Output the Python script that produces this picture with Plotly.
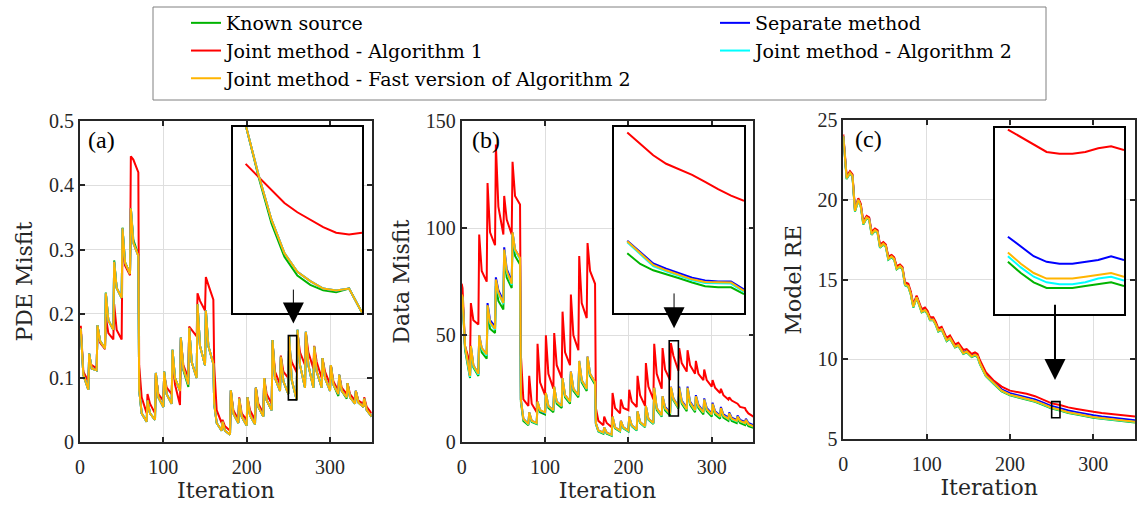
import plotly.graph_objects as go

# ---------------- data ----------------
names = ["Known source", "Separate method", "Joint method - Algorithm 1",
         "Joint method - Algorithm 2", "Joint method - Fast version of Algorithm 2"]
colors = ["#00b400", "#0000ff", "#ff0000", "#00ffff", "#ffb400"]

# iteration positions of the read vertices (peak, +3, block end) for panels (a),(b)
iters_ab = [0] + [10 * k + d for k in range(35) for d in (1, 4, 10)]
# iteration positions for panel (c)
iters_c = [0] + [10 * k + d for k in range(17) for d in (4, 8, 11)] + list(range(180, 351, 10))
# iterations shown in the zoomed insets
iters_inset = [251, 252, 253, 254, 255, 256, 257, 258, 259, 260]

# (a) PDE misfit
known_a = [0.177,
    0.175, 0.105, 0.082, 0.138, 0.115, 0.112, 0.182, 0.158, 0.146, 0.233, 0.190, 0.175, 0.283, 0.240, 0.224,
    0.334, 0.280, 0.262, 0.364, 0.315, 0.292, 0.082, 0.045, 0.032, 0.065, 0.045, 0.035, 0.108, 0.070, 0.055,
    0.110, 0.075, 0.060, 0.144, 0.100, 0.080, 0.163, 0.112, 0.086, 0.178, 0.125, 0.100, 0.215, 0.150, 0.120,
    0.205, 0.150, 0.122, 0.060, 0.030, 0.018, 0.032, 0.018, 0.012, 0.081, 0.045, 0.030, 0.068, 0.040, 0.026,
    0.070, 0.042, 0.028, 0.085, 0.055, 0.040, 0.100, 0.065, 0.050, 0.159, 0.100, 0.080, 0.133, 0.095, 0.075,
    0.167, 0.096, 0.066, 0.175, 0.120, 0.085, 0.172, 0.120, 0.085, 0.149, 0.110, 0.085, 0.131, 0.100, 0.080,
    0.120, 0.090, 0.072, 0.105, 0.080, 0.068, 0.092, 0.070, 0.060, 0.080, 0.062, 0.055, 0.068, 0.050, 0.040]
separate_a = [0.177,
    0.175, 0.105, 0.082, 0.138, 0.115, 0.112, 0.182, 0.158, 0.146, 0.232, 0.190, 0.175, 0.281, 0.240, 0.225,
    0.333, 0.280, 0.262, 0.364, 0.310, 0.290, 0.082, 0.045, 0.032, 0.065, 0.045, 0.035, 0.108, 0.070, 0.055,
    0.110, 0.075, 0.060, 0.144, 0.100, 0.080, 0.163, 0.115, 0.090, 0.178, 0.125, 0.100, 0.215, 0.150, 0.120,
    0.205, 0.150, 0.122, 0.060, 0.030, 0.018, 0.032, 0.018, 0.012, 0.081, 0.045, 0.030, 0.068, 0.040, 0.026,
    0.070, 0.042, 0.028, 0.085, 0.055, 0.040, 0.100, 0.065, 0.050, 0.159, 0.100, 0.080, 0.133, 0.095, 0.075,
    0.167, 0.098, 0.066, 0.175, 0.120, 0.085, 0.172, 0.120, 0.085, 0.149, 0.110, 0.085, 0.131, 0.100, 0.080,
    0.120, 0.090, 0.075, 0.105, 0.080, 0.070, 0.092, 0.070, 0.060, 0.080, 0.062, 0.055, 0.068, 0.050, 0.040]
joint1_a = [0.180,
    0.180, 0.110, 0.095, 0.125, 0.120, 0.115, 0.180, 0.155, 0.145, 0.195, 0.170, 0.160, 0.215, 0.175, 0.160,
    0.320, 0.275, 0.260, 0.445, 0.440, 0.420, 0.120, 0.070, 0.045, 0.075, 0.060, 0.045, 0.105, 0.075, 0.065,
    0.105, 0.085, 0.075, 0.130, 0.090, 0.058, 0.160, 0.120, 0.100, 0.180, 0.175, 0.165, 0.232, 0.220, 0.205,
    0.257, 0.245, 0.222, 0.120, 0.050, 0.030, 0.035, 0.025, 0.018, 0.080, 0.050, 0.035, 0.070, 0.045, 0.035,
    0.070, 0.050, 0.035, 0.085, 0.060, 0.045, 0.100, 0.075, 0.060, 0.155, 0.110, 0.090, 0.135, 0.110, 0.100,
    0.146, 0.125, 0.109, 0.170, 0.140, 0.120, 0.170, 0.140, 0.115, 0.150, 0.125, 0.100, 0.130, 0.110, 0.090,
    0.120, 0.095, 0.080, 0.105, 0.085, 0.075, 0.092, 0.075, 0.065, 0.080, 0.065, 0.060, 0.070, 0.055, 0.045]
joint2_a = [0.177,
    0.175, 0.105, 0.082, 0.138, 0.115, 0.112, 0.182, 0.158, 0.146, 0.232, 0.190, 0.175, 0.281, 0.240, 0.225,
    0.333, 0.280, 0.262, 0.364, 0.310, 0.290, 0.082, 0.045, 0.032, 0.065, 0.045, 0.035, 0.108, 0.070, 0.055,
    0.110, 0.075, 0.060, 0.144, 0.100, 0.080, 0.163, 0.115, 0.090, 0.178, 0.125, 0.100, 0.215, 0.150, 0.120,
    0.205, 0.150, 0.122, 0.060, 0.030, 0.018, 0.032, 0.018, 0.012, 0.081, 0.045, 0.030, 0.068, 0.040, 0.026,
    0.070, 0.042, 0.028, 0.085, 0.055, 0.040, 0.100, 0.065, 0.050, 0.159, 0.100, 0.080, 0.133, 0.095, 0.075,
    0.167, 0.098, 0.066, 0.175, 0.120, 0.085, 0.172, 0.120, 0.085, 0.149, 0.110, 0.085, 0.131, 0.100, 0.080,
    0.120, 0.090, 0.075, 0.105, 0.080, 0.070, 0.092, 0.070, 0.060, 0.080, 0.062, 0.055, 0.068, 0.050, 0.040]
fast_a = [0.177,
    0.175, 0.105, 0.082, 0.138, 0.115, 0.112, 0.182, 0.158, 0.146, 0.232, 0.190, 0.175, 0.281, 0.240, 0.225,
    0.333, 0.280, 0.262, 0.364, 0.310, 0.290, 0.082, 0.045, 0.032, 0.065, 0.045, 0.035, 0.108, 0.070, 0.055,
    0.110, 0.075, 0.060, 0.144, 0.100, 0.080, 0.163, 0.115, 0.090, 0.178, 0.125, 0.100, 0.215, 0.150, 0.120,
    0.205, 0.150, 0.122, 0.060, 0.030, 0.018, 0.032, 0.018, 0.012, 0.081, 0.045, 0.030, 0.068, 0.040, 0.026,
    0.070, 0.042, 0.028, 0.085, 0.055, 0.040, 0.100, 0.065, 0.050, 0.159, 0.100, 0.080, 0.133, 0.095, 0.075,
    0.167, 0.098, 0.066, 0.175, 0.120, 0.085, 0.172, 0.120, 0.085, 0.149, 0.110, 0.085, 0.131, 0.100, 0.080,
    0.120, 0.090, 0.075, 0.105, 0.080, 0.070, 0.092, 0.070, 0.060, 0.080, 0.062, 0.055, 0.068, 0.050, 0.040]

# (b) Data misfit
known_b = [68,
    67, 43, 30, 44, 35, 31, 49, 42, 39, 61, 53, 51, 73, 66, 62,
    87, 77, 72, 96, 87, 83, 19, 10, 8, 13, 9.5, 8.5, 18, 14, 13,
    22, 16, 14, 25, 18, 16, 29, 21, 18, 32, 24, 21, 37, 28, 24,
    39, 31, 27, 8.5, 5, 4, 6.5, 4, 3, 11, 6.5, 5, 9.5, 6.5, 5,
    11.5, 7.5, 5.5, 14, 9, 7, 16, 10.5, 8.5, 24.5, 15, 12, 20.5, 15, 12.5,
    23.5, 19.6, 15.8, 24.5, 18, 14.5, 24.5, 17.5, 14, 20.5, 16, 13, 19, 14.5, 12,
    17, 13, 11, 15, 11.5, 10, 12.5, 10, 9, 11, 9, 8, 9.5, 7.5, 6.8]
separate_b = [69,
    68, 45, 31, 45, 36, 32, 50, 44, 41, 65, 57, 54, 77, 71, 66,
    91, 81, 75, 98, 90, 86, 20, 11, 8.5, 14, 10, 9, 19, 15, 13.5,
    23, 17, 15, 26, 19, 17, 30, 22, 19, 33, 25, 22, 38, 29, 25,
    40, 32, 28, 9, 5.5, 4.5, 7, 4.5, 3.5, 12, 7, 5.5, 10, 7, 5.5,
    12, 8, 6, 14.5, 9.5, 7.5, 17, 11, 9, 25.5, 16, 12.5, 21.5, 16.5, 14,
    25.9, 20.6, 16.7, 26, 19.5, 16, 26, 19, 15.5, 22, 17.5, 14.5, 20.5, 16, 13.5,
    18.5, 14.5, 12.5, 16.5, 13, 11.5, 14, 11.5, 10.5, 12.5, 10.5, 9.5, 11, 9, 8]
joint1_b = [74,
    72, 45, 37, 65, 57, 55, 97, 80, 75, 121, 98, 92, 139, 110, 97,
    115, 104, 97, 131, 115, 111, 41, 20, 17, 31, 18, 14, 46, 28, 22,
    50, 32, 25, 51, 36, 30, 61, 42, 36, 69, 50, 43, 87, 65, 58,
    93, 80, 74, 16, 10, 8, 12, 9, 7, 23, 16, 13.5, 20, 16, 15,
    24.5, 19, 16.5, 31, 22, 17, 37, 26, 20, 46, 32, 25, 44, 34, 29,
    46.3, 40.4, 33.4, 44, 37, 33, 43, 36, 32, 38, 32, 29, 34, 29, 26,
    29, 25.5, 23, 25, 22, 20, 21, 19.5, 18, 18, 16.5, 16, 15, 13.5, 12]
joint2_b = [68.5,
    67.5, 44.5, 30.5, 44.5, 35.5, 31.5, 49.5, 43.5, 40.5, 63.5, 55.5, 52.5, 75.5, 69.5, 64.5,
    89.5, 79.5, 73.5, 97.5, 89.5, 85.5, 19.8, 10.8, 8.3, 13.8, 9.8, 8.8, 18.8, 14.8, 13.8,
    22.8, 16.8, 14.8, 25.8, 18.8, 16.8, 29.8, 21.8, 18.8, 32.8, 24.8, 21.8, 37.8, 28.8, 24.8,
    39.8, 31.8, 27.8, 8.8, 5.3, 4.3, 6.8, 4.3, 3.3, 11.8, 6.8, 5.3, 9.8, 6.8, 5.3,
    11.8, 7.8, 5.8, 14.3, 9.3, 7.3, 16.8, 10.8, 8.8, 25.3, 15.8, 12.3, 21.3, 15.8, 13.3,
    25.6, 20.1, 16.2, 25.3, 18.8, 15.3, 25.3, 18.3, 14.8, 21.3, 16.8, 13.8, 19.8, 15.3, 12.8,
    17.8, 13.8, 11.8, 15.8, 12.3, 10.8, 13.3, 10.8, 9.8, 11.8, 9.8, 8.8, 10.3, 8.3, 7.3]
fast_b = [69,
    68, 45, 31, 45, 36, 32, 50, 44, 41, 64, 56, 53, 76, 70, 65,
    90, 80, 74, 98, 90, 86, 20, 11, 8.5, 14, 10, 9, 19, 15, 14,
    23, 17, 15, 26, 19, 17, 30, 22, 19, 33, 25, 22, 38, 29, 25,
    40, 32, 28, 9, 5.5, 4.5, 7, 4.5, 3.5, 12, 7, 5.5, 10, 7, 5.5,
    12, 8, 6, 14.5, 9.5, 7.5, 17, 11, 9, 25.5, 16, 12.5, 21.5, 16, 13.5,
    25.8, 20.3, 16.4, 25.5, 19, 15.5, 25.5, 18.5, 15, 21.5, 17, 14, 20, 15.5, 13,
    18, 14, 12, 16, 12.5, 11, 13.5, 11, 10, 12, 10, 9, 10.5, 8.5, 7.5]

# (c) Model RE
known_c = [23.95,
    21.3, 21.65, 21.45, 19.25, 19.95, 19.55, 18.45, 18.85, 18.75, 17.8, 18.05, 17.95, 17.0, 17.2,
    17.05, 16.25, 16.4, 16.25, 15.65, 15.8, 15.65, 14.65, 14.55, 14.05, 13.25, 13.85, 13.35, 12.95, 13.05,
    12.85, 12.45, 12.45, 12.15, 11.75, 11.85, 11.55, 11.15, 11.3, 11.05, 10.75, 10.85, 10.55, 10.35, 10.45,
    10.3, 10.15, 10.25, 10.15, 9.7, 9.3,
    8.95, 8.5, 8.0, 7.75, 7.62, 7.5, 7.35, 7.15, 6.93, 6.8, 6.65, 6.55, 6.43, 6.35, 6.28, 6.22, 6.16, 6.11, 6.05]
separate_c = [24.0,
    21.4, 21.75, 21.55, 19.35, 20.05, 19.65, 18.55, 18.95, 18.85, 17.9, 18.15, 18.05, 17.1, 17.3,
    17.15, 16.35, 16.5, 16.35, 15.75, 15.9, 15.75, 14.75, 14.65, 14.15, 13.35, 13.95, 13.45, 13.05, 13.15,
    12.95, 12.55, 12.55, 12.25, 11.85, 11.95, 11.65, 11.25, 11.4, 11.15, 10.85, 10.95, 10.65, 10.45, 10.55,
    10.4, 10.25, 10.35, 10.25, 9.8, 9.4,
    9.1, 8.62, 8.13, 7.89, 7.76, 7.64, 7.5, 7.3, 7.08, 6.95, 6.8, 6.7, 6.58, 6.5, 6.43, 6.37, 6.31, 6.26, 6.2]
joint1_c = [24.1,
    21.5, 21.8, 21.6, 19.45, 20.1, 19.75, 18.65, 19.0, 18.9, 18.0, 18.2, 18.1, 17.2, 17.35,
    17.2, 16.45, 16.55, 16.4, 15.85, 15.95, 15.8, 14.85, 14.75, 14.25, 13.45, 14.0, 13.55, 13.15, 13.25,
    13.05, 12.65, 12.65, 12.35, 11.95, 12.05, 11.75, 11.35, 11.5, 11.25, 10.95, 11.05, 10.8, 10.6, 10.65,
    10.5, 10.35, 10.45, 10.35, 9.95, 9.5,
    9.2, 8.7, 8.3, 8.05, 7.95, 7.85, 7.7, 7.5, 7.25, 7.15, 7.0, 6.9, 6.8, 6.72, 6.65, 6.59, 6.53, 6.48, 6.43]
joint2_c = [23.98,
    21.33, 21.68, 21.48, 19.28, 19.98, 19.58, 18.48, 18.88, 18.78, 17.83, 18.08, 17.98, 17.03, 17.23,
    17.08, 16.28, 16.43, 16.28, 15.68, 15.83, 15.68, 14.68, 14.58, 14.08, 13.28, 13.88, 13.38, 12.98, 13.08,
    12.88, 12.48, 12.48, 12.18, 11.78, 11.88, 11.58, 11.18, 11.33, 11.08, 10.78, 10.88, 10.58, 10.38, 10.48,
    10.33, 10.18, 10.28, 10.18, 9.73, 9.33,
    8.98, 8.53, 8.03, 7.78, 7.65, 7.53, 7.38, 7.18, 6.96, 6.83, 6.68, 6.58, 6.46, 6.38, 6.31, 6.25, 6.19, 6.14, 6.08]
fast_c = [24.0,
    21.35, 21.7, 21.5, 19.3, 20.0, 19.6, 18.5, 18.9, 18.8, 17.85, 18.1, 18.0, 17.05, 17.25,
    17.1, 16.3, 16.45, 16.3, 15.7, 15.85, 15.7, 14.7, 14.6, 14.1, 13.3, 13.9, 13.4, 13.0, 13.1,
    12.9, 12.5, 12.5, 12.2, 11.8, 11.9, 11.6, 11.2, 11.35, 11.1, 10.8, 10.9, 10.6, 10.4, 10.5,
    10.35, 10.2, 10.3, 10.2, 9.75, 9.35,
    9.0, 8.55, 8.05, 7.8, 7.67, 7.55, 7.4, 7.2, 6.98, 6.85, 6.7, 6.6, 6.48, 6.4, 6.33, 6.27, 6.21, 6.16, 6.1]

# insets (zoom on iterations 250-260)
known_ia = [0.167, 0.139, 0.114, 0.096, 0.086, 0.081, 0.078, 0.077, 0.079, 0.066]
separate_ia = [0.167, 0.140, 0.116, 0.098, 0.088, 0.083, 0.079, 0.078, 0.079, 0.066]
joint1_ia = [0.146, 0.139, 0.132, 0.125, 0.120, 0.116, 0.112, 0.109, 0.108, 0.109]
joint2_ia = [0.167, 0.140, 0.116, 0.098, 0.088, 0.083, 0.079, 0.078, 0.079, 0.066]
fast_ia = [0.167, 0.140, 0.116, 0.098, 0.088, 0.083, 0.079, 0.078, 0.079, 0.066]

known_ib = [23.5, 21.5, 20.3, 19.6, 18.8, 18.0, 17.3, 17.1, 17.1, 15.8]
separate_ib = [25.9, 23.7, 21.6, 20.6, 19.7, 18.9, 18.4, 18.2, 18.2, 16.7]
joint1_ib = [46.3, 44.2, 42.0, 40.4, 39.4, 38.3, 37.0, 35.6, 34.4, 33.4]
joint2_ib = [25.6, 23.3, 21.1, 20.1, 19.2, 18.4, 17.9, 17.8, 17.8, 16.2]
fast_ib = [25.8, 23.5, 21.3, 20.3, 19.4, 18.6, 18.1, 18.0, 18.0, 16.4]

known_ic = [6.68, 6.62, 6.57, 6.54, 6.54, 6.54, 6.55, 6.56, 6.57, 6.55]
separate_ic = [6.815, 6.76, 6.71, 6.68, 6.67, 6.67, 6.68, 6.69, 6.71, 6.69]
joint1_ic = [7.39, 7.35, 7.31, 7.27, 7.26, 7.26, 7.27, 7.29, 7.30, 7.28]
joint2_ic = [6.71, 6.65, 6.60, 6.57, 6.56, 6.56, 6.57, 6.59, 6.60, 6.58]
fast_ic = [6.73, 6.67, 6.62, 6.59, 6.59, 6.59, 6.60, 6.61, 6.62, 6.60]

for lst in (known_a, separate_a, joint1_a, joint2_a, fast_a, known_b, separate_b, joint1_b, joint2_b, fast_b):
    assert len(lst) == len(iters_ab), len(lst)
for lst in (known_c, separate_c, joint1_c, joint2_c, fast_c):
    assert len(lst) == len(iters_c), len(lst)

# ---------------- figure ----------------
W, H = 1138, 506
NUMFONT = "Liberation Serif, Times New Roman, serif"
TXTFONT = "DejaVu Serif, serif"
INK = "#262626"


def px(x):
    return x / W


def py(y):
    return 1 - y / H


fig = go.Figure()

panels = [
    (iters_ab, [known_a, separate_a, joint1_a, joint2_a, fast_a], "x", "y"),
    (iters_ab, [known_b, separate_b, joint1_b, joint2_b, fast_b], "x2", "y2"),
    (iters_c, [known_c, separate_c, joint1_c, joint2_c, fast_c], "x3", "y3"),
    (iters_inset, [known_ia, separate_ia, joint1_ia, joint2_ia, fast_ia], "x4", "y4"),
    (iters_inset, [known_ib, separate_ib, joint1_ib, joint2_ib, fast_ib], "x5", "y5"),
    (iters_inset, [known_ic, separate_ic, joint1_ic, joint2_ic, fast_ic], "x6", "y6"),
]
for p, (xs, series, xa, ya) in enumerate(panels):
    for i, ys in enumerate(series):
        fig.add_trace(go.Scatter(
            x=xs, y=ys, mode="lines", name=names[i], legendgroup=names[i],
            showlegend=(p == 0), xaxis=xa, yaxis=ya,
            line=dict(color=colors[i], width=2), hoverinfo="skip"))

main_y = [(121, 442.3), (121, 442.3), (120, 439.3)]
main_x = [(80, 371.7), (461.7, 753.4), (843.3, 1135)]
y_ranges = [[0, 0.5], [0, 150], [5, 25]]
y_dticks = [0.1, 50, 5]
y_titles = ["PDE Misfit", "Data Misfit", "Model RE"]

axis_common = dict(showline=True, linecolor=INK, linewidth=1.8, mirror="ticks",
                   ticks="inside", ticklen=5, tickwidth=1.5, tickcolor=INK,
                   showgrid=True, gridcolor="#dedede", gridwidth=1, zeroline=False,
                   tickfont=dict(family=NUMFONT, size=20, color=INK))
layout = {}
for k in range(3):
    sx = "" if k == 0 else str(k + 1)
    layout["xaxis" + sx] = dict(
        axis_common, domain=[px(main_x[k][0]), px(main_x[k][1])], anchor="y" + sx,
        range=[0, 350], tickvals=[0, 100, 200, 300], ticklabelstandoff=6,
        title=dict(text="Iteration", font=dict(family=TXTFONT, size=22, color=INK), standoff=4))
    layout["yaxis" + sx] = dict(
        axis_common, domain=[py(main_y[k][1]), py(main_y[k][0])], anchor="x" + sx,
        range=y_ranges[k], dtick=y_dticks[k],
        title=dict(text=y_titles[k], font=dict(family=TXTFONT, size=22, color=INK), standoff=10))

inset_x = [(232.7, 362), (614.3, 744), (995, 1124)]
inset_y = [(126.7, 312.7), (126.7, 312.7), (127.7, 314)]
inset_yr = [[0.066, 0.166], [12.3, 47.4], [6.40, 7.40]]
for k in range(3):
    sx = str(k + 4)
    inset_axis = dict(showline=True, linecolor="black", linewidth=2, mirror=True,
                      ticks="", showticklabels=False, showgrid=False, zeroline=False)
    layout["xaxis" + sx] = dict(inset_axis, domain=[px(inset_x[k][0]), px(inset_x[k][1])],
                                anchor="y" + sx, range=[250, 260])
    layout["yaxis" + sx] = dict(inset_axis, domain=[py(inset_y[k][1]), py(inset_y[k][0])],
                                anchor="x" + sx, range=inset_yr[k])

fig.update_layout(**layout)

shapes = []
# legend frame
shapes.append(dict(type="rect", xref="paper", yref="paper", x0=px(153), x1=px(1046),
                   y0=py(100), y1=py(7), line=dict(color="#808080", width=1), layer="below"))
# zoom rectangles on the main plots
rects = [("x", "y", 250, 260, 0.066, 0.166), ("x2", "y2", 249, 260, 12.3, 47.4),
         ("x3", "y3", 250, 260, 6.35, 7.36)]
for xr, yr, x0, x1, y0, y1 in rects:
    shapes.append(dict(type="rect", xref=xr, yref=yr, x0=x0, x1=x1, y0=y0, y1=y1,
                       line=dict(color="black", width=1.6)))

annotations = []
# arrows from insets to rectangles
arrows = [("x", "y", 256, 0.24, 0.185, 1), ("x2", "y2", 254.8, 70.2, 53.2, 1),
          ("x3", "y3", 254, 13.52, 8.71, 2)]
for xr, yr, xv, ytail, ytip, w in arrows:
    annotations.append(dict(x=xv, y=ytip, xref=xr, yref=yr, ax=xv, ay=ytail, axref=xr, ayref=yr,
                            text="", showarrow=True, arrowhead=2, arrowsize=4.2 / w,
                            arrowwidth=w, arrowcolor="black"))
# panel labels
labels = [("(a)", "x domain", "y domain", 0.02), ("(b)", "x2 domain", "y2 domain", 0.028),
          ("(c)", "x3 domain", "y3 domain", 0.032)]
for t, xr, yr, xv in labels:
    annotations.append(dict(text=t, x=xv, y=0.94, xref=xr, yref=yr, xanchor="left",
                            yanchor="middle", showarrow=False,
                            font=dict(family=NUMFONT, size=24, color="black")))

fig.update_layout(
    width=W, height=H,
    margin=dict(l=0, r=0, t=0, b=0, autoexpand=False),
    paper_bgcolor="white", plot_bgcolor="white",
    font=dict(family=TXTFONT, color="black"),
    shapes=shapes, annotations=annotations,
    showlegend=True,
    legend=dict(orientation="h", x=px(186), y=py(4), xanchor="left", yanchor="top",
                bgcolor="rgba(0,0,0,0)", borderwidth=0,
                entrywidth=484, entrywidthmode="pixels", traceorder="normal",
                font=dict(family=TXTFONT, size=19, color="black"), itemwidth=30),
)

fig.write_html("out.html")
